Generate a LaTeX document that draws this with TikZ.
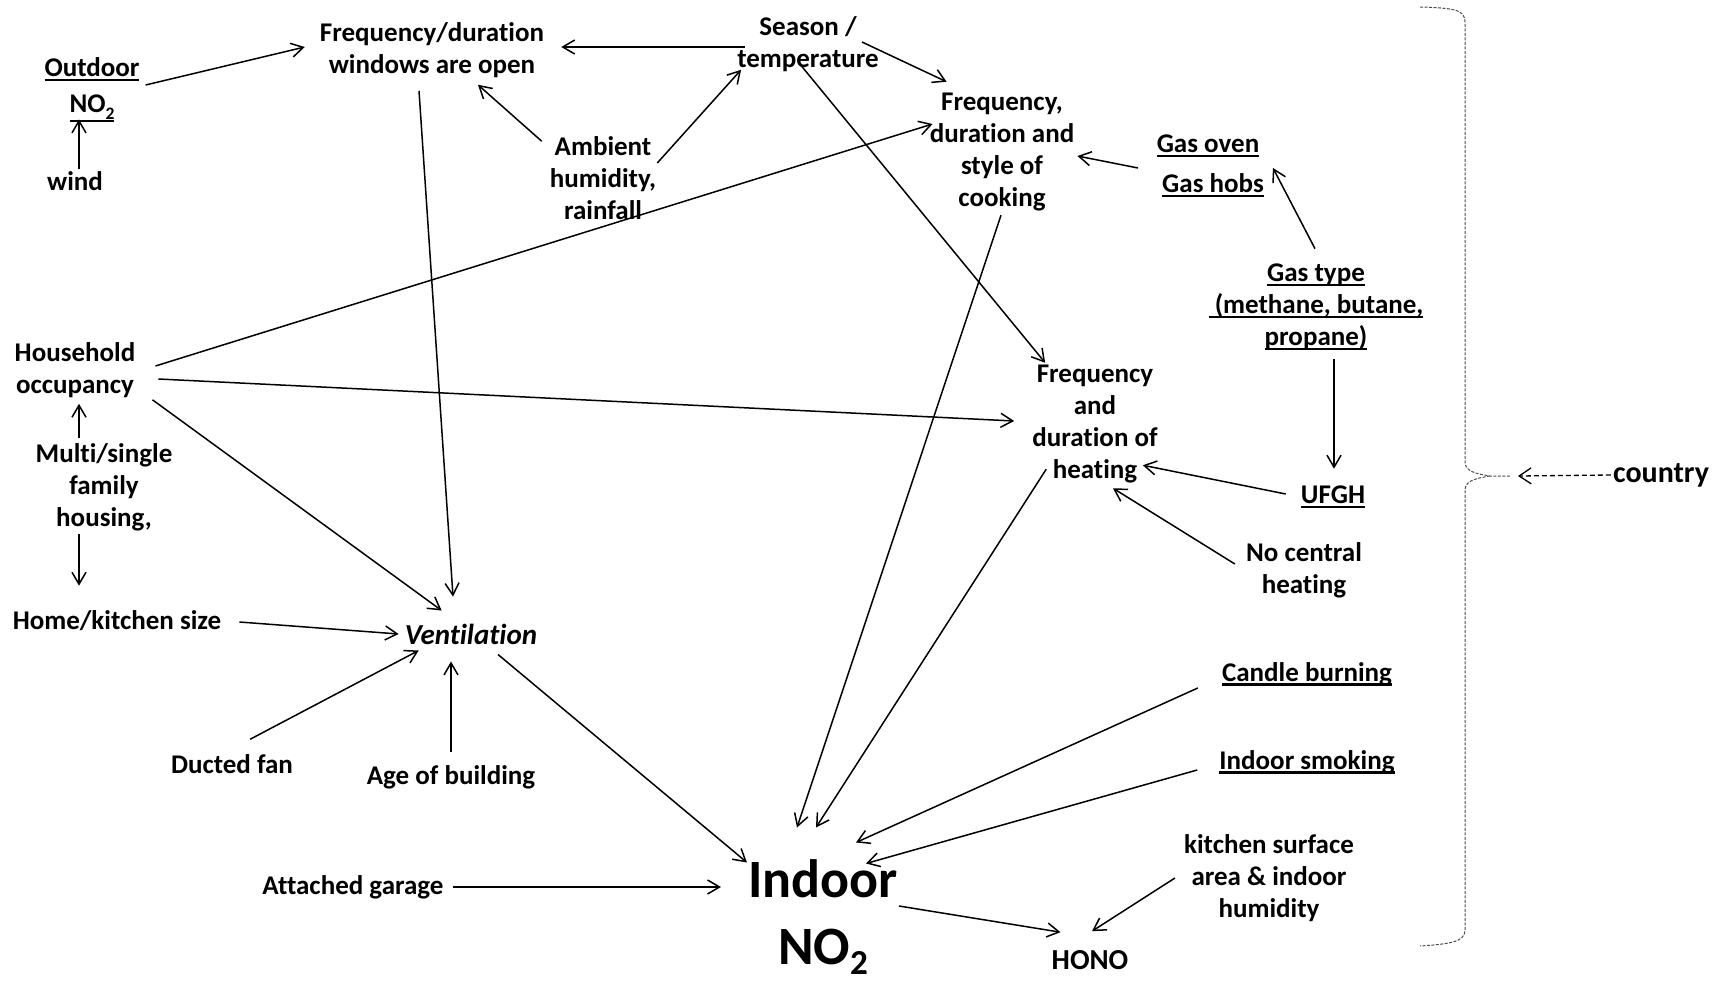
\documentclass[tikz,border=0pt]{standalone}
\usepackage{fontspec}
\setmainfont{Carlito}[Ligatures=NoCommon]
\usetikzlibrary{arrows.meta}

% underline at a fixed depth below the baseline
\newcommand\ulin[2][2pt]{\setbox0\hbox{#2}%
  \rlap{\vrule height -#1 depth \dimexpr#1+2.5pt\relax width \wd0}\box0}
% small lowered index, e.g. the 2 of NO2
\makeatletter
\newcommand\subs[2][0.26em]{\raisebox{-#1}{\fontsize{\strip@pt\dimexpr0.65\dimexpr\f@size pt\relax\relax}{0pt}\selectfont#2}}
\makeatother

\tikzset{
lbl/.style={align=center, inner sep=2pt,
  font=\bfseries\fontsize{27}{32}\selectfont},
arr/.style={-{Straight Barb[length=12pt,width=14pt]}, line width=1.5pt},
dasharr/.style={-{Straight Barb[length=12pt,width=16pt]}, line width=1.3pt,
  dash pattern=on 5pt off 3pt},
brc/.style={line width=1pt, black!70, dash pattern=on 3pt off 1.5pt}
}

\begin{document}
\begin{tikzpicture}[x=1pt, y=1pt]
\useasboundingbox (0,0) rectangle (1724,-980);

% left column
\node[lbl] (out) at (92,-90) {\ulin{Outdoor}\\[4pt]\ulin[7pt]{NO\subs{2}}};
\node[lbl] (wind) at (75,-181) {wind};
\node[lbl] (hh) at (75,-370) {Household\\occupancy};
\node[lbl] (multi) at (104,-487) {Multi/single\\family\\housing,};
\node[lbl] (home) at (117,-621) {Home/kitchen size};
\node[lbl] (fan) at (232,-764) {Ducted fan};
\node[lbl] (age) at (451,-777) {Age of building};
\node[lbl] (garage) at (353,-887) {Attached garage};

% top row
\node[lbl] (win) at (432,-50) {Frequency/duration\\windows are open};
\node[lbl] (season) at (808,-44) {Season /\\temperature};
\node[lbl] (amb) at (603,-178) {Ambient\\humidity,\\rainfall};
\node[lbl] (cook) at (1002,-152) {Frequency,\\duration and\\style of\\cooking};
\node[lbl] (gas) at (1208,-166) {\ulin{Gas oven}\\[8pt]\hspace*{10pt}\ulin{Gas hobs}};
\node[lbl] (gtype) at (1316,-307)
  {\ulin{Gas type}\\\ulin{\ (methane, butane,}\\\ulin{propane)}};

% middle
\node[lbl, font=\bfseries\itshape\fontsize{29}{34}\selectfont] (vent) at (471,-634) {Ventilation};
\node[lbl] (heat) at (1095,-424) {Frequency\\and\\duration of\\heating};
\node[lbl] (ufgh) at (1333,-497) {\ulin{UFGH}};
\node[lbl] (nocent) at (1304,-570) {No central\\heating};
\node[lbl] (candle) at (1307,-674) {\ulin{Candle burning}};
\node[lbl] (smoke) at (1307,-762) {\ulin{Indoor smoking}};
\node[lbl] (ksurf) at (1269,-878) {kitchen surface\\area \& indoor\\humidity};

% outcome
\node[lbl, font=\bfseries\fontsize{54}{67}\selectfont] (indoor) at (823,-917)
  {Indoor\\NO\subs[0.18em]{2}};
\node[lbl, font=\bfseries\fontsize{29}{34}\selectfont] (hono) at (1090,-960) {HONO};
\node[lbl, font=\bfseries\fontsize{30}{36}\selectfont] (country) at (1661,-475) {country};

% arrows
\draw[arr] ([xshift=4,yshift=5]out.east) -- ([xshift=-13,yshift=3]win.west);
\draw[arr] ([xshift=4]wind.north) -- ([xshift=-13,yshift=5]out.south);
\draw[arr] ([xshift=10,yshift=-3]season.west) -- ([xshift=15,yshift=3]win.east);
\draw[arr] ([xshift=-19,yshift=2]season.east) -- ([xshift=19,yshift=9]cook.north west);
\draw[arr] ([xshift=-6,yshift=-7]amb.north west) -- ([xshift=46,yshift=-5]win.south);
\draw[arr] ([xshift=-1,yshift=15]amb.east) -- ([xshift=6,yshift=4]season.south west);
\draw[arr] ([xshift=-13,yshift=-11]win.south) -- ([xshift=-18,yshift=25]vent.north);
\draw[arr] ([xshift=-10,yshift=12]season.south) -- ([xshift=15]heat.north west);
\draw[arr] ([xshift=18,yshift=4]hh.east) -- ([xshift=5,yshift=28]cook.west);
\draw[arr] ([xshift=21,yshift=-9]hh.east) -- ([xshift=-16,yshift=3]heat.west);
\draw[arr] ([xshift=15]hh.south east) -- ([xshift=39,yshift=11]vent.north west);
\draw[arr] ([xshift=-25,yshift=3]multi.north) -- ([xshift=4,yshift=-4]hh.south);
\draw[arr] ([xshift=-25,yshift=-1]multi.south) -- ([xshift=-38,yshift=23]home.north);
\draw[arr] ([xshift=16,yshift=-1]home.east) -- ([xshift=-4]vent.west);
\draw[arr] ([xshift=-45,yshift=13]fan.north east) -- ([xshift=16,yshift=-4]vent.south west);
\draw[arr] ([yshift=11]age.north) -- ([xshift=-20,yshift=-15]vent.south);
\draw[arr] ([xshift=27,yshift=-8]vent.south) -- ([xshift=1,yshift=-5]indoor.north west);
\draw[arr] ([xshift=7]garage.east) -- ([xshift=-25,yshift=30]indoor.west);
\draw[arr] ([xshift=-1,yshift=-2]cook.south) -- ([xshift=-26,yshift=30]indoor.north);
\draw[arr] ([xshift=16,yshift=16]heat.south west) -- ([xshift=-7,yshift=30]indoor.north);
\draw[arr] ([xshift=-22]candle.south west) -- ([xshift=-44,yshift=15]indoor.north east);
\draw[arr] ([xshift=-20,yshift=6]smoke.south west) -- ([xshift=-34,yshift=-6]indoor.north east);
\draw[arr] ([xshift=-1,yshift=11]indoor.east) -- ([xshift=11,yshift=16]hono.north west);
\draw[arr] ([xshift=-7]ksurf.west) -- ([xshift=2,yshift=17]hono.north);
\draw[arr] ([xshift=-12,yshift=-2]gas.west) -- ([xshift=1,yshift=-4]cook.east);
\draw[arr] ([xshift=-1,yshift=13]gtype.north) -- ([xshift=7,yshift=-2]gas.east);
\draw[arr] ([xshift=18,yshift=-7]gtype.south) -- ([xshift=1,yshift=15]ufgh.north);
\draw[arr] ([xshift=-13,yshift=3]ufgh.west) -- ([xshift=-17,yshift=20]heat.south east);
\draw[arr] ([xshift=-9,yshift=6]nocent.west) -- ([xshift=18,yshift=-3]heat.south);

% brace around the household factors
\coordinate (brtip) at (1510,-476);
\draw[brc] (1420,-7) .. controls (1455,-8) and (1465,-10) .. (1465,-22)
  -- (1465,-462) .. controls (1465,-472) and (1478,-474) .. (1490,-476) -- (brtip)
  (1490,-476) .. controls (1478,-478) and (1465,-480) .. (1465,-490)
  -- (1465,-930) .. controls (1465,-942) and (1450,-944) .. (1420,-946);
\draw[dasharr] (country.west) -- ([xshift=8]brtip);
\end{tikzpicture}
\end{document}
